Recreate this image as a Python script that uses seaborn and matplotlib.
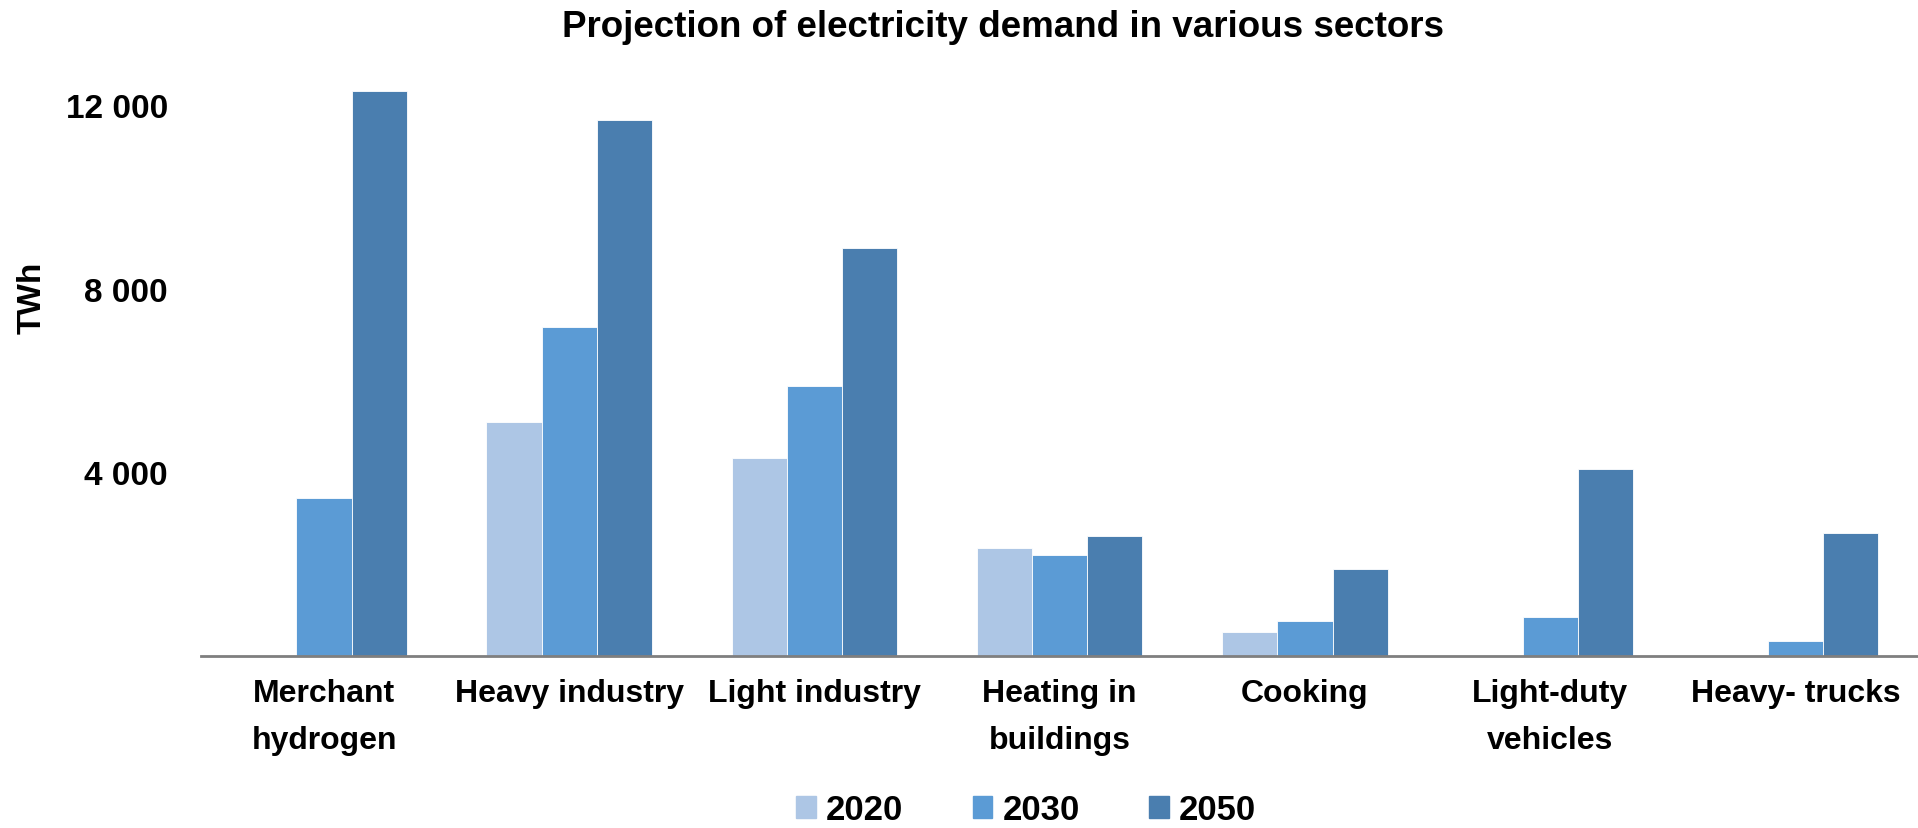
import matplotlib
matplotlib.use("Agg")
import matplotlib.pyplot as plt
from matplotlib import font_manager
import seaborn as sns
import pandas as pd

sectors = ["Merchant\nhydrogen", "Heavy industry", "Light industry", "Heating in\nbuildings",
           "Cooking", "Light-duty\nvehicles", "Heavy- trucks"]
years = ["2020", "2030", "2050"]
demand_2020 = [0, 5090, 4320, 2360, 530, 30, 0]
demand_2030 = [3450, 7170, 5890, 2200, 770, 840, 320]
demand_2050 = [12320, 11680, 8880, 2620, 1900, 4080, 2680]
yticks = [4000, 8000, 12000]
ytick_labels = ["4 000", "8 000", "12 000"]
colors = ["#adc6e5", "#5b9bd5", "#4a7eaf"]

df = pd.DataFrame({
    "sector": sectors * 3,
    "year": [y for y in years for _ in sectors],
    "twh": demand_2020 + demand_2030 + demand_2050,
})

sns.set_theme(style="white")
installed = {f.name for f in font_manager.fontManager.ttflist}
family = "Liberation Sans Narrow" if "Liberation Sans Narrow" in installed else "Liberation Sans"
plt.rcParams["font.family"] = [family, "DejaVu Sans"]
plt.rcParams["text.color"] = "black"
plt.rcParams["xtick.color"] = "black"
plt.rcParams["ytick.color"] = "black"

fig = plt.figure(figsize=(19.18, 8.29), dpi=100)
ax = fig.add_axes([0.105, 0.2075, 0.895, 0.6975])

sns.barplot(data=df, x="sector", y="twh", hue="year", hue_order=years, order=sectors,
            palette=dict(zip(years, colors)), width=0.675, saturation=1,
            edgecolor="white", linewidth=0.6, ax=ax)

ax.set_xlim(-0.5, 6.5)
ax.set_ylim(0, 12600)
ax.set_yticks(yticks)
ax.set_yticklabels(ytick_labels, fontsize=24, fontweight="bold", color="black")
ax.tick_params(axis="y", length=0, pad=24)
ax.tick_params(axis="x", length=0, pad=16)
for lbl in ax.get_xticklabels():
    lbl.set_fontsize(23)
    lbl.set_fontweight("bold")
    lbl.set_color("black")
    lbl.set_linespacing(1.75)
ax.set_xlabel("")
ax.set_ylabel("")
for side in ["top", "right", "left"]:
    ax.spines[side].set_visible(False)
ax.spines["bottom"].set_color("#7f7f7f")
ax.spines["bottom"].set_linewidth(2)

fig.text(0.0167, 0.641, "TWh", rotation=90, ha="center", va="center",
         fontsize=24, fontweight="bold", color="black")
fig.text(0.523, 0.967, "Projection of electricity demand in various sectors",
         ha="center", va="center", fontsize=26.5, fontweight="bold", color="black")

ax.legend_.remove()
handles = [plt.Rectangle((0, 0), 1, 1, color=c) for c in colors]
leg = fig.legend(handles, years, loc="center", bbox_to_anchor=(0.535, 0.022), ncol=3,
                 frameon=False, prop={"size": 25, "weight": "bold"},
                 handlelength=0.56, handleheight=0.56, handletextpad=0.3, columnspacing=2.0)
for t in leg.get_texts():
    t.set_color("black")

fig.savefig("out.png", dpi=100)
